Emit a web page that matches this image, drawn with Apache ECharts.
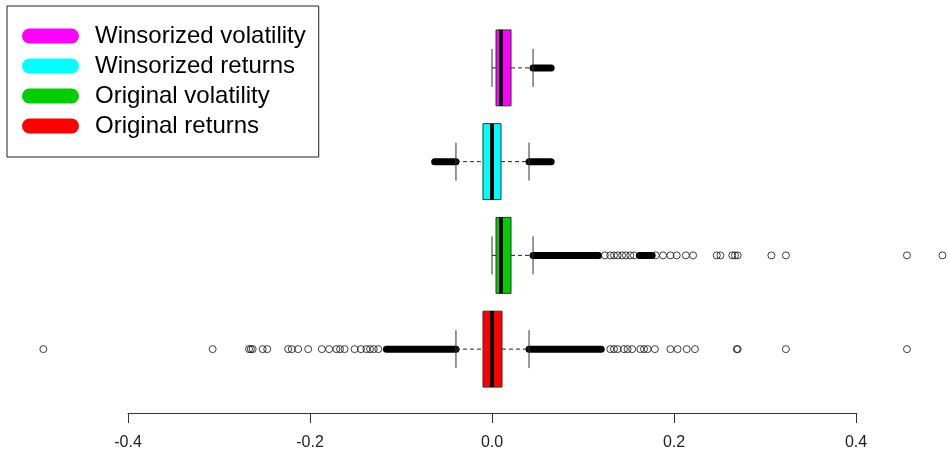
<!DOCTYPE html>
<html>
<head>
<meta charset="utf-8">
<script src="https://cdn.jsdelivr.net/npm/echarts@6/dist/echarts.min.js"></script>
<style>
  html, body { margin: 0; padding: 0; background: #fff; }
  #main { width: 948px; height: 454px; }
</style>
</head>
<body>
<div id="main"></div>
<script>
// categories, bottom to top
const categories = ['Original returns', 'Original volatility', 'Winsorized returns', 'Winsorized volatility'];

// [lower whisker, Q1, median, Q3, upper whisker]
const origReturnsStats = [-0.0396, -0.0099, 0.0, 0.011, 0.0407];
const origVolStats = [0.0, 0.0044, 0.0099, 0.0209, 0.0451];
const winsReturnsStats = [-0.0396, -0.0099, 0.0, 0.0099, 0.0407];
const winsVolStats = [0.0, 0.0044, 0.0099, 0.0209, 0.0451];

// runs of outliers so dense they merge into a solid bar [from, to]
const origReturnsDense = [[-0.116, -0.0396], [0.0407, 0.120]];
const origVolDense = [[0.0451, 0.117], [0.162, 0.176]];
const winsReturnsDense = [[-0.063, -0.0396], [0.0407, 0.065]];
const winsVolDense = [[0.0451, 0.065]];

// single outliers drawn as open circles
const origReturnsOutliers = [
  -0.493, -0.307, -0.267, -0.265, -0.263, -0.252, -0.247, -0.224, -0.220, -0.213,
  -0.202, -0.187, -0.179, -0.171, -0.167, -0.162, -0.151, -0.144, -0.138, -0.134,
  -0.130, -0.125,
  0.130, 0.134, 0.138, 0.145, 0.149, 0.154, 0.163, 0.167, 0.171, 0.179,
  0.196, 0.204, 0.214, 0.223, 0.269, 0.270, 0.323, 0.456
];
const origVolOutliers = [
  0.124, 0.130, 0.134, 0.138, 0.143, 0.147, 0.152, 0.156, 0.180, 0.188,
  0.196, 0.203, 0.213, 0.221, 0.247, 0.251, 0.264, 0.267, 0.270, 0.307,
  0.323, 0.456, 0.495
];

const xTicks = { min: -0.4, max: 0.4, interval: 0.2 };

const boxColors = ['#FF0000', '#00CD00', '#00FFFF', '#FF00FF'];
const statsList = [origReturnsStats, origVolStats, winsReturnsStats, winsVolStats];
const denseList = [origReturnsDense, origVolDense, winsReturnsDense, winsVolDense];
const outlierList = [origReturnsOutliers, origVolOutliers, [], []];

var chart = echarts.init(document.getElementById('main'));

function renderBox(params, api) {
  const cat = api.value(0);
  const lw = api.coord([api.value(1), cat]);
  const q1 = api.coord([api.value(2), cat]);
  const med = api.coord([api.value(3), cat]);
  const q3 = api.coord([api.value(4), cat]);
  const uw = api.coord([api.value(5), cat]);
  const h = api.size([0, 1])[1] * 0.81;
  const y = lw[1];
  const wStyle = { stroke: '#222', lineWidth: 1, lineDash: [4, 3] };
  const cStyle = { stroke: '#333', lineWidth: 1 };
  return {
    type: 'group',
    children: [
      { type: 'line', shape: { x1: lw[0], y1: y, x2: q1[0], y2: y }, style: wStyle },
      { type: 'line', shape: { x1: q3[0], y1: y, x2: uw[0], y2: y }, style: wStyle },
      { type: 'line', shape: { x1: lw[0], y1: y - h / 4, x2: lw[0], y2: y + h / 4 }, style: cStyle },
      { type: 'line', shape: { x1: uw[0], y1: y - h / 4, x2: uw[0], y2: y + h / 4 }, style: cStyle },
      { type: 'rect', shape: { x: q1[0], y: y - h / 2, width: q3[0] - q1[0], height: h },
        style: { fill: api.visual('color'), stroke: '#333', lineWidth: 1 } },
      { type: 'line', shape: { x1: med[0], y1: y - h / 2, x2: med[0], y2: y + h / 2 },
        style: { stroke: '#000', lineWidth: 4 } }
    ]
  };
}

function renderDense(params, api) {
  const cat = api.value(0);
  const a = api.coord([api.value(1), cat]);
  const b = api.coord([api.value(2), cat]);
  return {
    type: 'line',
    shape: { x1: a[0], y1: a[1], x2: b[0], y2: b[1] },
    style: { stroke: '#000', lineWidth: 7, lineCap: 'round' }
  };
}

const series = [];
categories.forEach((name, i) => {
  const s = statsList[i];
  series.push({
    name: name,
    type: 'custom',
    xAxisIndex: 0,
    yAxisIndex: 0,
    color: boxColors[i],
    itemStyle: { color: boxColors[i] },
    renderItem: renderBox,
    encode: { x: [1, 2, 3, 4, 5], y: 0 },
    data: [[i, s[0], s[1], s[2], s[3], s[4]]],
    z: 3
  });
});

const denseData = [];
const outlierData = [];
categories.forEach((name, i) => {
  denseList[i].forEach(r => denseData.push([i, r[0], r[1]]));
  outlierList[i].forEach(v => outlierData.push([v, i]));
});

series.push({
  type: 'custom',
  renderItem: renderDense,
  encode: { x: [1, 2], y: 0 },
  data: denseData,
  z: 2
});
series.push({
  type: 'scatter',
  symbol: 'circle',
  symbolSize: 7,
  itemStyle: { color: 'rgba(0,0,0,0)', borderColor: '#111', borderWidth: 1 },
  data: outlierData,
  z: 2
});

// empty series on the second grid, which only carries the visible axis
// (R draws the axis only between the end ticks)
series.push({
  type: 'scatter',
  xAxisIndex: 1,
  yAxisIndex: 1,
  data: [],
  silent: true
});

const option = {
  backgroundColor: '#fff',
  animation: false,
  grid: [
    { left: 37, right: 1, top: 21, bottom: 58 },
    { left: 128, right: 92, top: 403, height: 10 }
  ],
  xAxis: [
    { gridIndex: 0, type: 'value', min: -0.5, max: 0.5, show: false },
    {
      gridIndex: 1, type: 'value',
      min: xTicks.min, max: xTicks.max, interval: xTicks.interval,
      axisLine: { show: true, lineStyle: { color: '#333', width: 1 } },
      axisTick: { show: true, length: 10, lineStyle: { color: '#333', width: 1 } },
      axisLabel: {
        margin: 22, color: '#222', fontSize: 16, fontFamily: 'Liberation Sans',
        formatter: v => v.toFixed(1)
      },
      splitLine: { show: false }
    }
  ],
  yAxis: [
    { gridIndex: 0, type: 'category', data: categories, show: false },
    { gridIndex: 1, type: 'value', show: false }
  ],
  legend: {
    data: ['Winsorized volatility', 'Winsorized returns', 'Original volatility', 'Original returns'],
    orient: 'vertical',
    left: 7,
    top: 6,
    padding: [18, 13, 19, 15],
    itemGap: 6,
    itemWidth: 57,
    itemHeight: 15,
    icon: 'path://M7.5,0 H49.5 A7.5,7.5 0 0 1 49.5,15 H7.5 A7.5,7.5 0 0 1 7.5,0 Z',
    borderColor: '#222',
    borderWidth: 1,
    selectedMode: false,
    itemStyle: { borderWidth: 0 },
    textStyle: {
      fontFamily: 'Liberation Sans', fontSize: 24, lineHeight: 24, color: '#000',
      padding: [0, 0, 0, 11]
    }
  },
  series: series
};

chart.setOption(option);
</script>
</body>
</html>
